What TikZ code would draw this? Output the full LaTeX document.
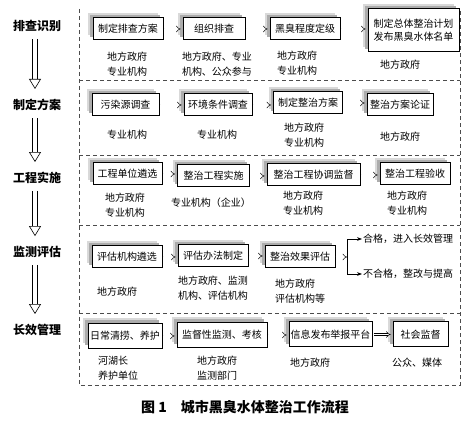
\documentclass[tikz,border=0pt]{standalone}
\usepackage{fontspec}
\newfontfamily\cjk{Noto Sans CJK SC}
\usetikzlibrary{arrows.meta,shadows}

\tikzset{
  box/.style={draw, line width=1pt, fill=white, minimum height=22pt, inner xsep=1pt, inner ysep=2pt,
    font=\cjk\fontsize{10}{13}\selectfont, align=center,
    general shadow={fill=gray!30, shadow xshift=-5pt, shadow yshift=5pt},
    general shadow={fill=gray!65, shadow xshift=-3pt, shadow yshift=3pt}},
  note/.style={font=\cjk\fontsize{10}{15}\selectfont, align=center, inner sep=1pt},
  stage/.style={font=\cjk\bfseries\fontsize{12}{14}\selectfont, inner sep=2pt},
  flow/.style={double, double distance=1.8pt, line width=0.5pt, -{Implies}},
  down/.style={double, double distance=4.5pt, line width=0.6pt, -{Triangle[open, length=10pt, width=12pt]}},
  frame/.style={gray!60!black, line width=0.8pt, dash pattern=on 4pt off 3pt},
  split/.style={line width=0.8pt, -{Stealth[length=5pt]}}
}

\begin{document}
\begin{tikzpicture}[x=1pt, y=-1pt]
  \useasboundingbox (0,0) rectangle (475,425);

  % dashed frame and row lines
  \draw[frame] (79,9) -- (79,385) -- (460,385) -- (460,9);
  \foreach \y in {80,155,225,313}
    \draw[frame] (79,\y) -- (460,\y);

  % stages on the left
  \node[stage] (l1) at (37,26) {排查识别};
  \node[stage] (l2) at (37,105) {制定方案};
  \node[stage] (l3) at (37,178) {工程实施};
  \node[stage] (l4) at (37,252) {监测评估};
  \node[stage] (l5) at (37,330) {长效管理};
  \foreach \a/\b in {l1/l2, l2/l3, l3/l4, l4/l5}
    \draw[down, shorten <=5pt, shorten >=8pt] ([xshift=-2pt]\a.south) -- ([xshift=-2pt]\b.north);

  % row 1
  \node[box, minimum width=70pt] (b11) at (128,29) {制定排查方案};
  \node[box, minimum width=62pt] (b12) at (214,29) {组织排查};
  \node[box, minimum width=70pt] (b13) at (305,29) {黑臭程度定级};
  \node[box, minimum width=91pt, minimum height=43pt] (b14) at (413.5,30.5) {制定总体整治计划\\发布黑臭水体名单};
  \node[note] (n11) at (127,64.5) {地方政府\\专业机构};
  \node[note] (n12) at (217,64.5) {地方政府、专业\\机构、公众参与};
  \node[note] (n13) at (297,63) {地方政府\\专业机构};
  \node[note] (n14) at (400,65) {地方政府};

  % row 2
  \node[box, minimum width=67pt] (b21) at (125.5,105) {污染源调查};
  \node[box, minimum width=68pt] (b22) at (218,105) {环境条件调查};
  \node[box, minimum width=69pt] (b23) at (308,103) {制定整治方案};
  \node[box, minimum width=66pt] (b24) at (400,105) {整治方案论证};
  \node[note] (n21) at (127,135) {专业机构};
  \node[note] (n22) at (217,135) {专业机构};
  \node[note] (n23) at (304,135.5) {地方政府\\专业机构};
  \node[note] (n24) at (400,137) {地方政府};

  % row 3
  \node[box, minimum width=69pt] (b31) at (127.5,174) {工程单位遴选};
  \node[box, minimum width=72pt] (b32) at (213.5,176) {整治工程实施};
  \node[box, minimum width=93pt] (b33) at (313.5,175) {整治工程协调监督};
  \node[box, minimum width=70pt] (b34) at (415,174) {整治工程验收};
  \node[note] (n31) at (125,205.5) {地方政府\\专业机构};
  \node[note] (n32) at (211,203) {专业机构（企业）};
  \node[note] (n33) at (303,203) {地方政府\\专业机构};
  \node[note] (n34) at (407,203) {地方政府\\专业机构};

  % row 4
  \node[box, minimum width=70pt] (b41) at (127,257) {评估机构遴选};
  \node[box, minimum width=70pt] (b42) at (213,256) {评估办法制定};
  \node[box, minimum width=70pt] (b43) at (300,257) {整治效果评估};
  \node[note] (n41) at (117,292) {地方政府};
  \node[note] (n42) at (213,288.5) {地方政府、监测\\机构、评估机构};
  \node[note, align=left, anchor=west] (n43) at (274,291.5) {地方政府\\评估机构等};
  \coordinate (fork) at (347,257);
  \node[note, anchor=west] (pass) at (362,239) {合格，进入长效管理};
  \node[note, anchor=west] (fail) at (362,274) {不合格，整改与提高};

  % row 5
  \node[box, minimum width=74pt, minimum height=25pt] (b51) at (125,336) {日常清捞、养护};
  \node[box, minimum width=90pt, minimum height=25pt] (b52) at (222,335) {监督性监测、考核};
  \node[box, minimum width=83pt, minimum height=25pt] (b53) at (330.5,334.5) {信息发布举报平台};
  \node[box, minimum width=55pt, minimum height=25pt] (b54) at (420.5,334.5) {社会监督};
  \node[note, align=left, anchor=west] (n51) at (97,368) {河湖长\\养护单位};
  \node[note, align=left, anchor=west] (n52) at (196,368) {地方政府\\监测部门};
  \node[note] (n53) at (310,363) {地方政府};
  \node[note] (n54) at (417,363) {公众、媒体};

  % flow between boxes
  \foreach \a/\b in {b11/b12, b12/b13, b13/b14, b21/b22, b22/b23, b23/b24,
                     b31/b32, b32/b33, b33/b34, b41/b42, b42/b43,
                     b51/b52, b52/b53, b53/b54}
    \draw[flow, shorten <=1pt, shorten >=2pt] (\a.east) -- (\a.east -| \b.west);
  \draw[flow] (b43.east) -- (fork);
  \draw[split] (fork) |- (pass);
  \draw[split] (fork) |- (fail);

  % caption
  \node[font=\cjk\bfseries\fontsize{14}{16}\selectfont] (cap) at (245,407) {图 1\quad 城市黑臭水体整治工作流程};
\end{tikzpicture}
\end{document}
